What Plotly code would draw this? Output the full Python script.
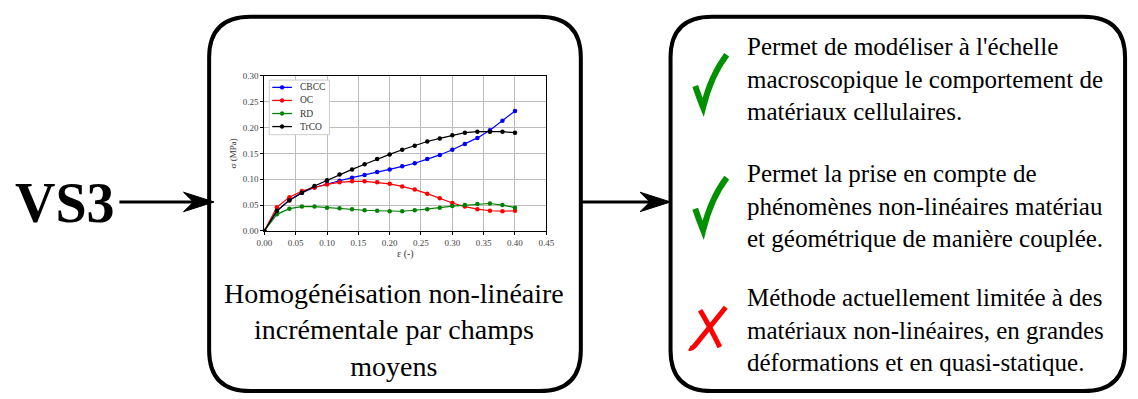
import plotly.graph_objects as go

W, H = 1138, 399

# strain values and stress curves (MPa)
strain = [0.00, 0.02, 0.04, 0.06, 0.08, 0.10, 0.12, 0.14, 0.16, 0.18, 0.20,
          0.22, 0.24, 0.26, 0.28, 0.30, 0.32, 0.34, 0.36, 0.38, 0.40]
cbcc = [0, 0.038, 0.060, 0.074, 0.084, 0.091, 0.097, 0.103, 0.108, 0.114, 0.119,
        0.125, 0.131, 0.139, 0.147, 0.157, 0.168, 0.180, 0.195, 0.213, 0.232]
oc = [0, 0.046, 0.065, 0.077, 0.084, 0.090, 0.094, 0.096, 0.096, 0.094, 0.091,
      0.086, 0.080, 0.072, 0.063, 0.054, 0.047, 0.042, 0.039, 0.038, 0.039]
rd = [0, 0.032, 0.043, 0.047, 0.047, 0.045, 0.044, 0.042, 0.040, 0.039, 0.038,
      0.038, 0.040, 0.042, 0.045, 0.048, 0.050, 0.052, 0.053, 0.050, 0.045]
trco = [0, 0.039, 0.059, 0.074, 0.087, 0.098, 0.109, 0.119, 0.129, 0.139, 0.148,
        0.157, 0.165, 0.173, 0.179, 0.185, 0.190, 0.192, 0.192, 0.192, 0.190]

series_names = ['CBCC', 'OC', 'RD', 'TrCO']
series_colors = ['#0000ff', '#ff0000', '#008000', '#000000']

x_ticks = [0.00, 0.05, 0.10, 0.15, 0.20, 0.25, 0.30, 0.35, 0.40, 0.45]
y_ticks = [0.00, 0.05, 0.10, 0.15, 0.20, 0.25, 0.30]

box_text = 'Homogénéisation non-linéaire<br>incrémentale par champs<br>moyens'
points = [
    "Permet de modéliser à l'échelle<br>macroscopique le comportement de<br>matériaux cellulaires.",
    "Permet la prise en compte de<br>phénomènes non-linéaires matériau<br>et géométrique de manière couplée.",
    "Méthode actuellement limitée à des<br>matériaux non-linéaires, en grandes<br>déformations et en quasi-statique.",
]

SERIF = 'Liberation Serif, Times New Roman, serif'

fig = go.Figure()
for name, col, ys in zip(series_names, series_colors, [cbcc, oc, rd, trco]):
    fig.add_trace(go.Scatter(x=strain, y=ys, name=name, mode='lines+markers',
                             line=dict(color=col, width=1.2),
                             marker=dict(color=col, size=4.5),
                             showlegend=False))


def rrect(x0, y0, x1, y1, r):
    return (f'M{x0+r},{y0} L{x1-r},{y0} Q{x1},{y0} {x1},{y0+r} L{x1},{y1-r} '
            f'Q{x1},{y1} {x1-r},{y1} L{x0+r},{y1} Q{x0},{y1} {x0},{y1-r} '
            f'L{x0},{y0+r} Q{x0},{y0} {x0+r},{y0} Z')


def head(tip, y, length=31, half=10, notch=10):
    return (f'M{tip},{y} L{tip-length},{y-half} L{tip-length+notch},{y} '
            f'L{tip-length},{y+half} Z')


px = dict(xref='x2', yref='y2')
shapes = [
    dict(type='path', path=rrect(204, 12, 581, 396, 42), line=dict(color='black', width=4), **px),
    dict(type='path', path=rrect(672, 12, 1133, 396, 42), line=dict(color='black', width=4), **px),
    # arrows
    dict(type='line', x0=113, x1=190, y0=202, y1=202, line=dict(color='black', width=3), **px),
    dict(type='path', path=head(209, 202), fillcolor='black', line=dict(color='black', width=1), **px),
    dict(type='line', x0=582, x1=655, y0=202, y1=202, line=dict(color='black', width=3), **px),
    dict(type='path', path=head(672, 202), fillcolor='black', line=dict(color='black', width=1), **px),
]
# check marks
for dy in (0, 126):
    shapes.append(dict(type='path',
                       path=f'M697,{83+dy} Q701,{95+dy} 705,{105+dy} Q713,{72+dy} 729,{51+dy}',
                       line=dict(color='#009000', width=6), **px))
# cross
shapes.append(dict(type='path', path='M702,313 Q712,330 722,351',
                   line=dict(color='#ff0000', width=5), **px))
shapes.append(dict(type='path', path='M728,310 Q712,330 696,350 Q693,353 691,352',
                   line=dict(color='#ff0000', width=5), **px))

# legend of the small chart (matplotlib style)
shapes.append(dict(type='rect', x0=265, x1=326, y0=77, y1=133, fillcolor='white',
                   line=dict(color='#cccccc', width=1), **px))
annotations = []
for i, (name, col) in enumerate(zip(series_names, series_colors)):
    yy = 84.5 + i * 13.4
    shapes.append(dict(type='line', x0=268, x1=288, y0=yy, y1=yy,
                       line=dict(color=col, width=1.3), **px))
    shapes.append(dict(type='circle', x0=276, x1=280, y0=yy - 2, y1=yy + 2,
                       fillcolor=col, line=dict(color=col, width=0.5), **px))
    annotations.append(dict(text=name, x=294, y=yy, showarrow=False, xanchor='left',
                            yanchor='middle', font=dict(family=SERIF, size=9.5, color='#333'), **px))

annotations += [
    dict(text='<b>VS3</b>', x=58, y=203, showarrow=False, xanchor='center', yanchor='middle',
         font=dict(family=SERIF, size=56, color='black'), **px),
    dict(text=box_text, x=392, y=333, showarrow=False, xanchor='center', yanchor='middle',
         align='center', font=dict(family=SERIF, size=28, color='black'), **px),
]
for txt, yc in zip(points, [76, 206, 333]):
    annotations.append(dict(text=txt, x=747, y=yc, showarrow=False, xanchor='left',
                            yanchor='middle', align='left',
                            font=dict(family=SERIF, size=25, color='black'), **px))

axis_common = dict(showline=True, linecolor='black', linewidth=1, mirror=True,
                   ticks='outside', ticklen=3, tickcolor='black', showgrid=True,
                   gridcolor='#bdbdbd', gridwidth=1.3, zeroline=False,
                   tickfont=dict(family=SERIF, size=9, color='#444'))

fig.update_layout(
    width=W, height=H, margin=dict(l=0, r=0, t=0, b=0),
    paper_bgcolor='white', plot_bgcolor='rgba(0,0,0,0)',
    showlegend=False,
    xaxis=dict(domain=[260 / W, 546 / W], range=[0, 0.45], tickvals=x_ticks, tickformat='.2f',
               title=dict(text='ε (-)', font=dict(family=SERIF, size=10, color='#333'), standoff=2),
               **axis_common),
    yaxis=dict(domain=[1 - 231.7 / H, 1 - 72.7 / H], range=[0, 0.30], tickvals=y_ticks,
               tickformat='.2f',
               title=dict(text='σ (MPa)', font=dict(family=SERIF, size=9, color='#333'), standoff=4),
               **axis_common),
    xaxis2=dict(domain=[0, 1], range=[0, W], visible=False, anchor='y2'),
    yaxis2=dict(domain=[0, 1], range=[H, 0], visible=False, anchor='x2'),
    shapes=shapes,
    annotations=annotations,
)

fig.write_html('out.html', config={'displayModeBar': False},
               post_script="document.body.style.margin='0';"
                           "document.body.style.padding='0';"
                           "document.documentElement.style.overflow='hidden';")
